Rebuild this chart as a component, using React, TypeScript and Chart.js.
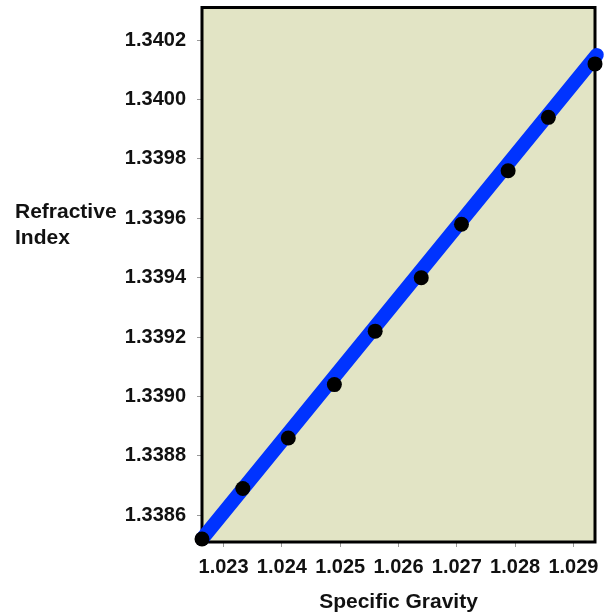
import React, { useEffect, useRef } from "react";
import { Chart, registerables } from "chart.js";

Chart.register(...registerables);

const specificGravity = [1.02263, 1.02333, 1.02411, 1.0249, 1.0256, 1.02639, 1.02708, 1.02788, 1.02857, 1.02937];
const refractiveIndex = [1.33852, 1.33869, 1.33886, 1.33904, 1.33922, 1.3394, 1.33958, 1.33976, 1.33994, 1.34012];
const trendX = [1.02263, 1.0294];
const trendY = [1.33852, 1.34015];
const xTicks = [1.023, 1.024, 1.025, 1.026, 1.027, 1.028, 1.029];
const yTicks = [1.3386, 1.3388, 1.339, 1.3392, 1.3394, 1.3396, 1.3398, 1.34, 1.3402];
const xTitle = "Specific Gravity";
const yTitleLines = ["Refractive", "Index"];

const FONT = "'Liberation Sans', Arial, sans-serif";

export default function App() {
  const ref = useRef<HTMLCanvasElement>(null);
  useEffect(() => {
    if (!ref.current) return;
    const framePlugin = {
      id: "frame",
      beforeDatasetsDraw(chart: any) {
        const { ctx, chartArea: a } = chart;
        ctx.save();
        ctx.fillStyle = "#E2E4C5";
        ctx.fillRect(a.left, a.top, a.right - a.left, a.bottom - a.top);
        ctx.lineWidth = 3;
        ctx.strokeStyle = "#000";
        ctx.strokeRect(a.left, a.top, a.right - a.left, a.bottom - a.top);
        ctx.restore();
      },
      afterDraw(chart: any) {
        const { ctx, chartArea: a } = chart;
        ctx.save();
        ctx.fillStyle = "#111";
        ctx.font = `bold 21px ${FONT}`;
        ctx.textAlign = "center";
        ctx.textBaseline = "middle";
        ctx.fillText(xTitle, (a.left + a.right) / 2, 602);
        ctx.textAlign = "left";
        yTitleLines.forEach((t, i) => ctx.fillText(t, 15, 212 + i * 26));
        ctx.restore();
      },
    };
    const chart = new Chart(ref.current, {
      type: "scatter",
      data: {
        datasets: [
          {
            data: specificGravity.map((x, i) => ({ x, y: refractiveIndex[i] })),
            showLine: false,
            pointRadius: 7.5,
            pointBackgroundColor: "#000",
            pointBorderColor: "#000",
            pointBorderWidth: 0,
            clip: false as any,
          },
          {
            data: trendX.map((x, i) => ({ x, y: trendY[i] })),
            showLine: true,
            borderColor: "#0033FF",
            borderWidth: 14,
            borderCapStyle: "round",
            pointRadius: 0,
            clip: false as any,
          },
        ],
      },
      options: {
        animation: false,
        responsive: false,
        layout: { padding: { top: 7, right: 12, left: 0, bottom: 0 } },
        plugins: { legend: { display: false }, tooltip: { enabled: false } },
        scales: {
          x: {
            type: "linear",
            min: specificGravity[0],
            max: specificGravity[specificGravity.length - 1],
            afterBuildTicks: (s: any) => {
              s.ticks = xTicks.map((v) => ({ value: v }));
            },
            afterFit: (s: any) => {
              s.height = 71;
              s.paddingLeft = 0;
              s.paddingRight = 0;
            },
            grid: { drawOnChartArea: false, drawTicks: true, tickLength: 5, color: "#999" },
            border: { display: false },
            ticks: {
              color: "#111",
              padding: 8,
              maxRotation: 0,
              font: { family: FONT, size: 20, weight: "bold" },
              callback: (v: any) => Number(v).toFixed(3),
            },
          },
          y: {
            type: "linear",
            min: 1.33851,
            max: 1.34031,
            afterBuildTicks: (s: any) => {
              s.ticks = yTicks.map((v) => ({ value: v }));
            },
            afterFit: (s: any) => {
              s.width = 202;
              s.paddingTop = 0;
              s.paddingBottom = 0;
            },
            grid: { drawOnChartArea: false, drawTicks: true, tickLength: 5, color: "#999" },
            border: { display: false },
            ticks: {
              color: "#111",
              padding: 11,
              font: { family: FONT, size: 20, weight: "bold" },
              callback: (v: any) => Number(v).toFixed(4),
            },
          },
        },
      },
      plugins: [framePlugin],
    } as any);
    return () => chart.destroy();
  }, []);
  return (
    <div style={{ position: "fixed", left: 0, top: 0, width: 607, height: 613, background: "#fff" }}>
      <canvas ref={ref} width={607} height={613} style={{ width: 607, height: 613 }} />
    </div>
  );
}
